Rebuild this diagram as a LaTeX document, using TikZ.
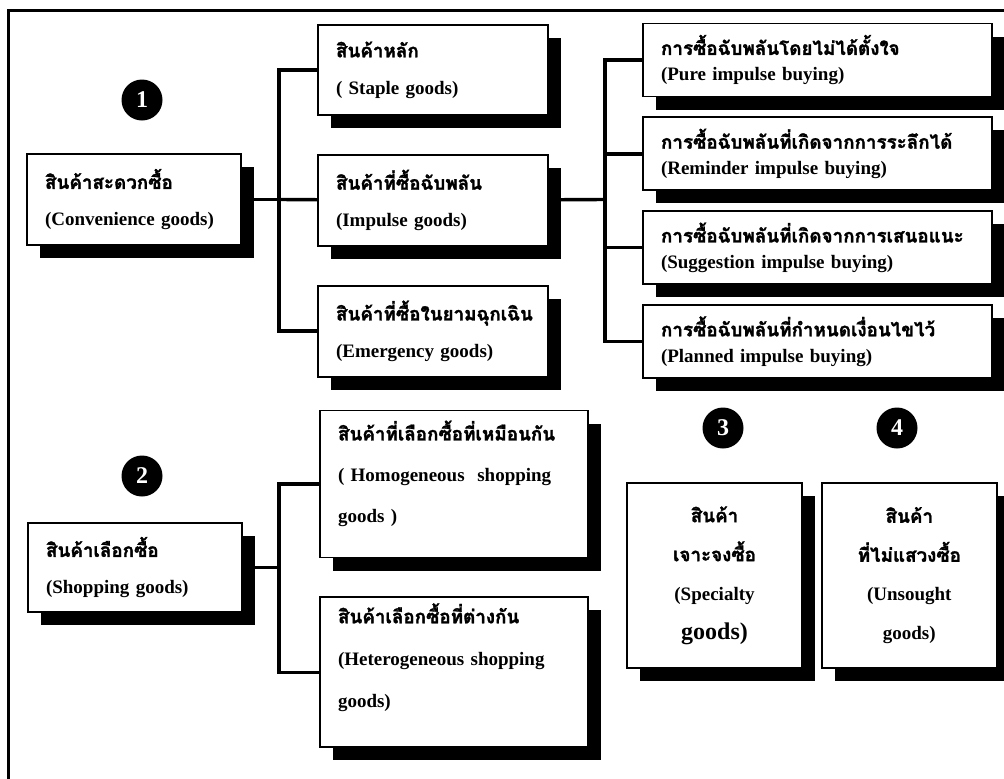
\documentclass[tikz,border=0pt]{standalone}
\usepackage{fontspec}
\setmainfont{Liberation Serif}
\newfontfamily\thaifont[Script=Thai,Scale=0.99,FakeBold=1.6]{Loma}
\usetikzlibrary{positioning,shadows}
\newcommand{\thtxt}[1]{{\thaifont #1}}

\begin{document}
\begin{tikzpicture}[x=.5pt,y=-.5pt,node distance=19pt,
  box/.style={draw,line width=.9pt,fill=white,inner xsep=9pt,inner ysep=3pt,align=left,
    font=\bfseries\fontsize{9.5}{18.5}\selectfont,
    drop shadow={shadow xshift=6.5pt,shadow yshift=-6.5pt,opacity=1,fill=black}},
  buybox/.style={box,text width=156.5pt,minimum height=36.5pt,font=\bfseries\fontsize{9.5}{13}\selectfont},
  numdot/.style={circle,fill=black,text=white,minimum size=20.5pt,inner sep=0pt,font=\bfseries\fontsize{12}{12}\selectfont},
  link/.style={line width=1.7pt}]
\useasboundingbox (0,0) rectangle (1004,778);
% frame
\draw[line width=1.5pt] (8,790) |- (1012,10);
% 1 convenience goods
\node[numdot] (n1) at (142,100) {1};
\node[box,text width=89pt,minimum height=45.5pt] (conv) at (134,199.5) {\thtxt{สินค้าสะดวกซื้อ}\\(Convenience goods)};
\node[box,text width=97pt,minimum height=45pt] (staple) at (433,70) {\thtxt{สินค้าหลัก}\\( Staple goods)};
\node[box,text width=97pt,minimum height=45.5pt,below=of staple] (impulse) {\thtxt{สินค้าที่ซื้อฉับพลัน}\\(Impulse goods)};
\node[box,text width=97pt,minimum height=45.5pt,below=of impulse] (emerg) {\thtxt{สินค้าที่ซื้อในยามฉุกเฉิน}\\(Emergency goods)};
\node[buybox] (pure) at (817.5,60) {\thtxt{การซื้อฉับพลันโดยไม่ได้ตั้งใจ}\\(Pure impulse buying)};
\node[buybox,below=9.5pt of pure] (remind) {\thtxt{การซื้อฉับพลันที่เกิดจากการระลึกได้}\\(Reminder impulse buying)};
\node[buybox,below=9.5pt of remind] (suggest) {\thtxt{การซื้อฉับพลันที่เกิดจากการเสนอแนะ}\\(Suggestion impulse buying)};
\node[buybox,below=9.5pt of suggest] (planned) {\thtxt{การซื้อฉับพลันที่กำหนดเงื่อนไขไว้}\\(Planned impulse buying)};
\coordinate (j1) at (279,199.5);
\coordinate (j2) at (605,199.5);
\draw[link] (conv) -- (j1);
\draw[link] (j1) -- (impulse);
\draw[link] (staple) -| (j1) |- (emerg);
\draw[link] (impulse) -- (j2);
\draw[link] (pure) -| (j2) |- (planned);
\draw[link] (j2 |- remind) -- (remind);
\draw[link] (j2 |- suggest) -- (suggest);
% 2 shopping goods
\node[numdot] (n2) at (142,476) {2};
\node[box,text width=89pt,minimum height=44.5pt] (shop) at (135,567.5) {\thtxt{สินค้าเลือกซื้อ}\\(Shopping goods)};
\node[box,text width=116pt,minimum height=73.5pt,font=\bfseries\fontsize{9.5}{20.5}\selectfont] (homo) at (454,484) {\thtxt{สินค้าที่เลือกซื้อที่เหมือนกัน}\\( Homogeneous~~shopping\\goods )\\[-8pt]\mbox{}};
\node[box,text width=116pt,minimum height=74pt,font=\bfseries\fontsize{9.5}{21}\selectfont,below=of homo] (hetero) {\thtxt{สินค้าเลือกซื้อที่ต่างกัน}\\(Heterogeneous shopping\\goods)\\[-4pt]\mbox{}};
\coordinate (j3) at (279,567.5);
\draw[link] (shop) -- (j3);
\draw[link] (homo) -| (j3) |- (hetero);
% 3 and 4
\node[numdot] (n3) at (723,428) {3};
\node[numdot] (n4) at (897,428) {4};
\node[box,align=center,text width=69.5pt,minimum height=92.5pt,font=\bfseries\fontsize{9.5}{19.5}\selectfont] (special) at (714.5,575.5) {\thtxt{สินค้า}\\\thtxt{เจาะจงซื้อ}\\(Specialty\\{\fontsize{12}{19.5}\selectfont goods)}};
\node[box,align=center,text width=69.5pt,minimum height=92.5pt,font=\bfseries\fontsize{9.5}{19.5}\selectfont,right=9pt of special] (unsought) {\thtxt{สินค้า}\\\thtxt{ที่ไม่แสวงซื้อ}\\(Unsought\\goods)};
\end{tikzpicture}
\end{document}
